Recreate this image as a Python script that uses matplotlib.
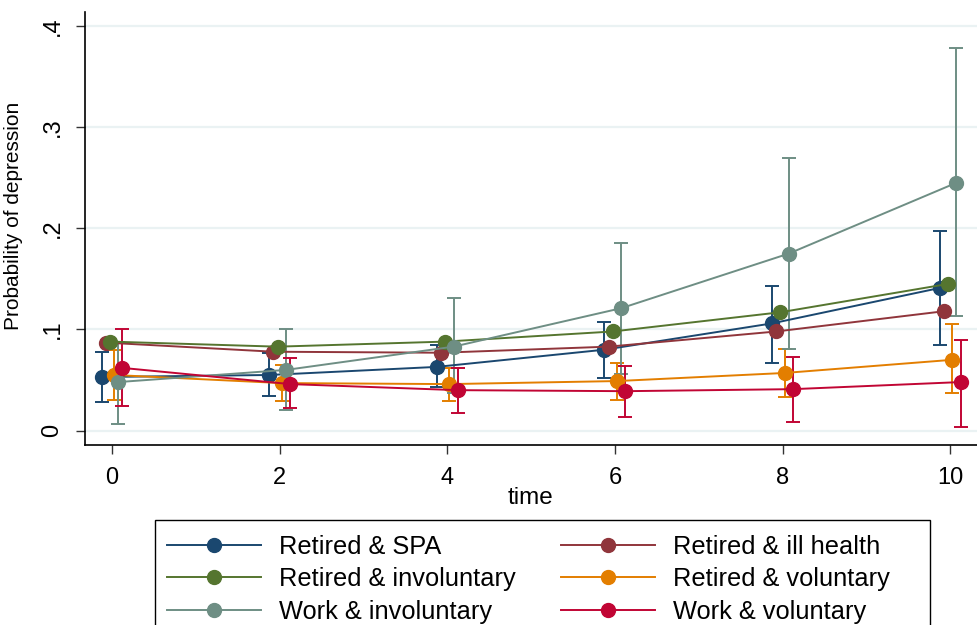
import numpy as np
import matplotlib
matplotlib.use("Agg")
import matplotlib.pyplot as plt
from matplotlib.lines import Line2D
from matplotlib.patches import Rectangle

plt.rcParams['font.family'] = ['Liberation Sans', 'DejaVu Sans']

# predicted probability of depression by time since exit
times = np.array([0, 2, 4, 6, 8, 10])

spa = [0.053, 0.055, 0.063, 0.080, 0.106, 0.141]
spa_lo = [0.028, 0.034, 0.043, 0.052, 0.067, 0.085]
spa_hi = [0.078, 0.077, 0.085, 0.107, 0.143, 0.197]

ill = [0.087, 0.078, 0.077, 0.083, 0.098, 0.118]

invol = [0.088, 0.083, 0.088, 0.098, 0.117, 0.145]

vol = [0.055, 0.047, 0.046, 0.049, 0.057, 0.070]
vol_lo = [0.030, 0.029, 0.029, 0.030, 0.033, 0.037]
vol_hi = [0.080, 0.065, 0.062, 0.067, 0.081, 0.105]

work_invol = [0.048, 0.060, 0.083, 0.121, 0.175, 0.245]
wi_lo = [0.007, 0.020, 0.037, 0.056, 0.081, 0.113]
wi_hi = [0.088, 0.100, 0.131, 0.185, 0.269, 0.378]

work_vol = [0.062, 0.046, 0.040, 0.039, 0.041, 0.048]
wv_lo = [0.024, 0.022, 0.017, 0.013, 0.009, 0.004]
wv_hi = [0.100, 0.072, 0.062, 0.064, 0.073, 0.090]

labels = ['Retired & SPA', 'Retired & ill health', 'Retired & involuntary',
          'Retired & voluntary', 'Work & involuntary', 'Work & voluntary']
values = [spa, ill, invol, vol, work_invol, work_vol]
lows = [spa_lo, None, None, vol_lo, wi_lo, wv_lo]
highs = [spa_hi, None, None, vol_hi, wi_hi, wv_hi]

# stata s2color palette
colors = ['#1a476f', '#90353b', '#55752f', '#e37e00', '#6e8e84', '#c10534']
shifts = [-0.125, -0.075, -0.025, 0.025, 0.075, 0.125]

fig = plt.figure(figsize=(9.77, 6.25), dpi=100)
ax = fig.add_axes([0.087, 0.288, 0.913, 0.693])

for y, lo, hi, c, s in zip(values, lows, highs, colors, shifts):
    x = times + s
    y = np.array(y)
    if lo is not None:
        err = [y - np.array(lo), np.array(hi) - y]
        ax.errorbar(x, y, yerr=err, fmt='none', ecolor=c, elinewidth=1.4,
                    capsize=4.8, capthick=1.4, zorder=2)
    ax.plot(x, y, color=c, lw=1.4, marker='o', markersize=10, zorder=3)

ax.set_xlim(-0.322, 10.32)
ax.set_ylim(-0.0142, 0.4139)
ax.set_xticks([0, 2, 4, 6, 8, 10])
ax.set_yticks([0, 0.1, 0.2, 0.3, 0.4])
ax.set_yticklabels(['0', '.1', '.2', '.3', '.4'], rotation=90, va='center')
ax.tick_params(axis='both', labelsize=17, length=6.5, width=1, color='#333333')
ax.tick_params(axis='y', pad=9)
ax.tick_params(axis='x', pad=9)

ax.grid(axis='y', color='#eaf2f3', lw=1.6)
ax.set_axisbelow(True)
for side in ['top', 'right']:
    ax.spines[side].set_visible(False)
for side in ['left', 'bottom']:
    ax.spines[side].set_color('black')
    ax.spines[side].set_linewidth(1.2)

ax.set_xlabel('time', fontsize=17.5)
ax.xaxis.set_label_coords(0.5, -0.097)
ax.set_ylabel('Probability of depression', fontsize=15)
ax.yaxis.set_label_coords(-0.07, 0.529)

# legend: frame drawn by hand so it can run past the bottom edge
fig.patches.append(Rectangle((155 / 977, -0.05), 775 / 977, 0.05 + 105 / 625,
                             transform=fig.transFigure, fill=False,
                             edgecolor='black', lw=1.0))
handles = [Line2D([], [], color=c, lw=1.4, marker='o', markersize=10) for c in colors]
order = [0, 2, 4, 1, 3, 5]
fig.legend([handles[i] for i in order], [labels[i] for i in order],
           ncol=2, loc='upper left', bbox_to_anchor=(167 / 977, 1 - 535 / 625),
           fontsize=18.3, frameon=False,
           handlelength=3.7, handletextpad=0.7, columnspacing=1.8,
           labelspacing=0.33, borderpad=0, borderaxespad=0)

fig.savefig('out.png', dpi=100)
